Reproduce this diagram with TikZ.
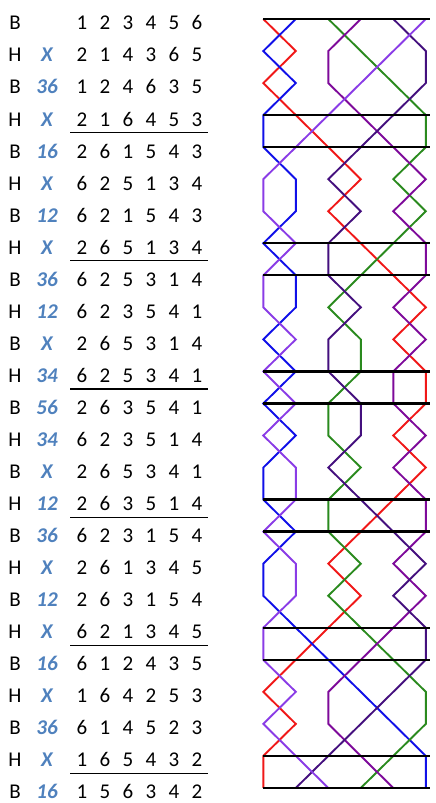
\documentclass[tikz,border=0pt]{standalone}
\usepackage{fontspec}
\setmainfont{Carlito}
\definecolor{pncol}{HTML}{4F81BD}
\definecolor{cA}{HTML}{F01818}
\definecolor{cB}{HTML}{1010E8}
\definecolor{cC}{HTML}{2A8A1E}
\definecolor{cD}{HTML}{7E0A9A}
\definecolor{cE}{HTML}{44107E}
\definecolor{cF}{HTML}{8A3CE6}
\tikzset{
  digit/.style={anchor=base,inner sep=0pt,font=\fontsize{21}{25}\selectfont},
  sidelabel/.style={anchor=base,inner sep=0pt,font=\fontsize{21}{25}\selectfont},
  pnlabel/.style={anchor=base,inner sep=0pt,text=pncol,font=\fontsize{21}{25}\selectfont\bfseries\itshape},
  uline/.style={line width=1.2pt,black},
  rung/.style={line width=2.3pt,black},
  bellpath/.style={line width=1.9pt,line join=miter},
}
\begin{document}
\begin{tikzpicture}[x=1pt,y=-1pt]
\useasboundingbox (0,0) rectangle (436,803);
% rows
\foreach \row [count=\r] in {{1,2,3,4,5,6},{2,1,4,3,6,5},{1,2,4,6,3,5},{2,1,6,4,5,3},{2,6,1,5,4,3},{6,2,5,1,3,4},{6,2,1,5,4,3},{2,6,5,1,3,4},{6,2,5,3,1,4},{6,2,3,5,4,1},{2,6,5,3,1,4},{6,2,5,3,4,1},{2,6,3,5,4,1},{6,2,3,5,1,4},{2,6,5,3,4,1},{2,6,3,5,1,4},{6,2,3,1,5,4},{2,6,1,3,4,5},{2,6,3,1,5,4},{6,2,1,3,4,5},{6,1,2,4,3,5},{1,6,4,2,5,3},{6,1,4,5,2,3},{1,6,5,4,3,2},{1,5,6,3,4,2}}{
  \foreach \b [count=\p] in \row {
    \coordinate (b\b-\r) at ({263.3+32.5*(\p-1)},{19+32.04*(\r-1)});
    \coordinate (p\r-\p) at ({263.3+32.5*(\p-1)},{19+32.04*(\r-1)});
    \node[digit] (t\r-\p) at ({82+23*(\p-1)},{29.9+32.04*(\r-1)}) {\b};
  }
}
% B/H labels
\foreach \l [count=\r] in {B,H,B,H,B,H,B,H,B,H,B,H,B,H,B,H,B,H,B,H,B,H,B,H,B}{
  \node[sidelabel] (s\r) at (15,{29.9+32.04*(\r-1)}) {\l};
}
% place notation
\foreach \n [count=\r from 2] in {X,36,X,16,X,12,X,36,12,X,34,56,34,X,12,36,X,12,X,16,X,36,X,16}{
  \node[pnlabel] (n\r) at (47,{29.9+32.04*(\r-1)}) {\n};
}
% underlines
\foreach \r in {4,8,12,16,20,24}{
  \coordinate (ua\r) at (70,{19+32.04*(\r-1)+17.5});
  \coordinate (ub\r) at (208,{19+32.04*(\r-1)+17.5});
  \draw[uline] (ua\r) -- (ub\r);
}
% bell paths
\foreach \b/\c in {1/cA,2/cB,3/cC,4/cD,5/cE,6/cF}{
  \draw[bellpath,\c] (b\b-1) \foreach \r in {2,...,25}{ -- (b\b-\r)};
}
% rungs
\foreach \r in {1,4,5,8,9,12,13,16,17,20,21,24,25}{
  \draw[rung] (p\r-1) -- ([xshift=4pt]p\r-6);
}
\end{tikzpicture}
\end{document}
